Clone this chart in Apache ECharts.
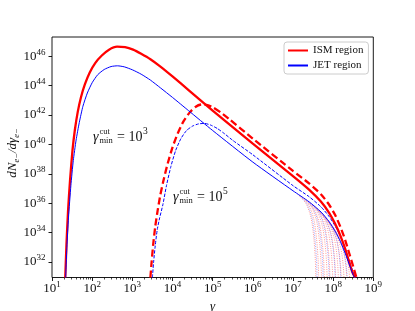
<!DOCTYPE html>
<html><head><meta charset="utf-8">
<script src="https://cdn.jsdelivr.net/npm/echarts@6/dist/echarts.min.js"></script>
<style>html,body{margin:0;padding:0;background:#fff}#c{width:415px;height:311px}</style>
</head><body><div id="c"></div>
<script>
// all values are log10(gamma), log10(dN/dgamma)
const xTickExponents = [1,2,3,4,5,6,7,8,9];
const yTickExponents = [32,34,36,38,40,42,44,46];
const legendNames = ['ISM region','JET region'];
const annotationExponents = [3,5];

const ismSolid = [[1.33,30.95],[1.36,33.2],[1.40,35.5],[1.45,37.6],[1.51,39.6],[1.57,41.0],[1.64,42.2],[1.72,43.2],[1.82,44.1],[1.94,44.9],[2.08,45.55],[2.24,46.05],[2.42,46.45],[2.62,46.65],[2.82,46.62],[3.02,46.45],[3.22,46.17],[3.45,45.8],[3.7,45.3],[4.0,44.63],[4.4,43.7],[5.0,42.3],[6.0,40.05],[7.0,37.85],[7.4,36.93],[7.7,36.1],[7.9,35.35],[8.05,34.6],[8.18,33.8],[8.3,32.9],[8.4,32.0],[8.48,31.3],[8.55,30.95]];
const jetSolid = [[1.34,30.95],[1.37,33.0],[1.41,35.0],[1.47,37.2],[1.53,38.9],[1.6,40.3],[1.68,41.5],[1.77,42.6],[1.88,43.5],[2.0,44.2],[2.14,44.75],[2.3,45.1],[2.47,45.3],[2.63,45.35],[2.8,45.28],[3.0,45.08],[3.22,44.78],[3.45,44.38],[3.7,43.85],[4.0,43.2],[4.4,42.3],[5.0,40.95],[6.0,38.8],[7.0,36.85],[7.4,36.1],[7.7,35.4],[7.9,34.75],[8.05,34.1],[8.18,33.4],[8.3,32.6],[8.4,31.85],[8.48,31.25],[8.53,30.95]];
const ismDashed = [[3.45,30.95],[3.48,32.0],[3.52,33.2],[3.57,34.4],[3.63,35.5],[3.7,36.6],[3.78,37.6],[3.88,38.7],[4.0,39.8],[4.13,40.75],[4.27,41.55],[4.42,42.15],[4.57,42.55],[4.72,42.72],[4.87,42.68],[5.02,42.5],[5.2,42.18],[5.425,41.7],[6.0,40.4],[7.0,38.2],[7.4,37.35],[7.7,36.6],[7.9,35.9],[8.05,35.2],[8.18,34.4],[8.3,33.5],[8.4,32.6],[8.5,31.7],[8.58,30.95]];
const jetDashed = [[3.5,30.95],[3.53,32.0],[3.57,33.1],[3.62,34.2],[3.68,35.0],[3.76,35.9],[3.85,37.2],[3.96,38.5],[4.08,39.6],[4.21,40.4],[4.35,40.95],[4.5,41.25],[4.65,41.4],[4.8,41.43],[4.95,41.32],[5.12,41.08],[5.3,40.72],[5.5,40.28],[6.0,39.3],[7.0,37.2],[7.4,36.45],[7.7,35.75],[7.9,35.1],[8.05,34.45],[8.18,33.75],[8.3,32.9],[8.4,32.1],[8.5,31.3],[8.56,30.95]];

// thin dotted cut-off curves (fan near the high-energy end)
const ismFans = [
  [[7.12,36.6],[7.32,36.0],[7.45,35.0],[7.52,33.6],[7.555,32.2],[7.57,30.95]],
  [[7.19,36.5],[7.39,35.9],[7.52,34.9],[7.59,33.5],[7.625,32.2],[7.64,30.95]],
  [[7.26,36.35],[7.46,35.75],[7.59,34.75],[7.66,33.4],[7.695,32.1],[7.71,30.95]],
  [[7.33,36.25],[7.53,35.6],[7.66,34.6],[7.73,33.3],[7.765,32.1],[7.78,30.95]],
  [[7.4,36.1],[7.6,35.45],[7.73,34.45],[7.8,33.2],[7.835,32.0],[7.85,30.95]],
  [[7.47,35.95],[7.67,35.3],[7.8,34.3],[7.87,33.1],[7.905,32.0],[7.92,30.95]],
  [[7.54,35.8],[7.74,35.1],[7.87,34.15],[7.94,33.0],[7.975,31.9],[7.99,30.95]],
  [[7.61,35.6],[7.81,34.9],[7.94,34.0],[8.01,32.9],[8.045,31.9],[8.06,30.95]],
  [[7.68,35.45],[7.88,34.7],[8.01,33.8],[8.08,32.8],[8.115,31.8],[8.13,30.95]],
  [[7.75,35.25],[7.95,34.45],[8.08,33.6],[8.15,32.65],[8.185,31.7],[8.2,30.95]],
  [[7.82,35.0],[8.02,34.2],[8.15,33.35],[8.22,32.5],[8.255,31.6],[8.27,30.95]],
  [[7.89,34.8],[8.09,33.95],[8.22,33.1],[8.29,32.3],[8.325,31.5],[8.34,30.95]],
  [[7.96,34.55],[8.16,33.65],[8.29,32.8],[8.36,32.05],[8.395,31.4],[8.41,30.95]]
];
const jetFans = [
  [[7.15,36.55],[7.35,35.95],[7.48,34.95],[7.55,33.5],[7.585,32.2],[7.6,30.95]],
  [[7.3,36.3],[7.5,35.65],[7.63,34.65],[7.7,33.35],[7.735,32.1],[7.75,30.95]],
  [[7.45,36.0],[7.65,35.35],[7.78,34.35],[7.85,33.1],[7.885,32.0],[7.9,30.95]],
  [[7.6,35.65],[7.8,34.95],[7.93,34.0],[8.0,32.9],[8.035,31.9],[8.05,30.95]],
  [[7.74,35.3],[7.94,34.5],[8.07,33.65],[8.14,32.7],[8.175,31.75],[8.19,30.95]],
  [[7.9,34.75],[8.1,33.9],[8.23,33.05],[8.3,32.25],[8.335,31.5],[8.35,30.95]]
];

const SERIF = "'Liberation Serif','DejaVu Serif',serif";
const minorTicks = [];
for (let d = 1; d < 9; d++) for (let k = 2; k <= 9; k++) minorTicks.push(d + Math.log10(k));

const chart = echarts.init(document.getElementById('c'), null, {renderer:'canvas'});

const powRich = {
  b: {fontFamily: SERIF, fontSize: 13, color: '#111', lineHeight: 17},
  s: {fontFamily: SERIF, fontSize: 9, color: '#111', lineHeight: 6, verticalAlign: 'top'}
};
const powFmt = v => '{b|10}{s|' + Math.round(v) + '}';

const series = [];
ismFans.forEach((d,i) => series.push({type:'line', name:'ismFan'+i, data:d, symbol:'none', smooth:0.3, silent:true,
  lineStyle:{color:'#ff0000', width:0.8, type:[1,1.3], opacity:0.5}, z:1}));
jetFans.forEach((d,i) => series.push({type:'line', name:'jetFan'+i, data:d, symbol:'none', smooth:0.3, silent:true,
  lineStyle:{color:'#0000ff', width:0.8, type:[1,1.3], opacity:0.45}, z:1}));
const sm = 0.2;
series.push({type:'line', name:'ISM dashed', data:ismDashed, symbol:'none', smooth:sm, lineStyle:{color:'#ff0000', width:2.3, type:[7,3.5]}, z:3});
series.push({type:'line', name:'JET dashed', data:jetDashed, symbol:'none', smooth:sm, lineStyle:{color:'#0000ff', width:1, type:[3.3,1.5]}, z:3});
series.push({type:'line', name:legendNames[0], data:ismSolid, symbol:'circle', showSymbol:false, smooth:sm, lineStyle:{color:'#ff0000', width:2.3}, itemStyle:{color:'#ff0000'}, z:4});
series.push({type:'line', name:legendNames[1], data:jetSolid, symbol:'circle', showSymbol:false, smooth:sm, lineStyle:{color:'#0000ff', width:1}, itemStyle:{color:'#0000ff'}, z:4});

function annot(x, y, e) {
  const f = (s) => s + "px " + SERIF;
  return {type:'group', x:x, y:y, children:[
    {type:'text', x:0, y:0, style:{text:'γ', font:'italic ' + f(14), verticalAlign:'middle', fill:'#111'}},
    {type:'text', x:6.5, y:-5, style:{text:'cut', font:f(8.5), verticalAlign:'middle', fill:'#111'}},
    {type:'text', x:6.5, y:3.5, style:{text:'min', font:f(8.5), verticalAlign:'middle', fill:'#111'}},
    {type:'text', x:24, y:0, style:{text:'= 10', font:f(14), verticalAlign:'middle', fill:'#111'}},
    {type:'text', x:50, y:-6, style:{text:String(e), font:f(9.5), verticalAlign:'middle', fill:'#111'}}
  ]};
}

const yTitle = {
  type:'text', x:13, y:153, rotation:Math.PI/2,
  style:{
    text:'{i|dN}{s|e−}{i|/dγ}{s|e−}', align:'center', verticalAlign:'middle',
    rich:{
      i:{fontFamily:SERIF, fontStyle:'italic', fontSize:13, fill:'#111', lineHeight:16},
      s:{fontFamily:SERIF, fontStyle:'italic', fontSize:8.5, fill:'#111', lineHeight:8, verticalAlign:'bottom'}
    }
  }
};

chart.setOption({
  animation:false,
  backgroundColor:'#fff',
  grid:{left:52, right:41.7, top:37, bottom:33.5, show:true, borderColor:'#000', borderWidth:0.9, backgroundColor:'transparent', containLabel:false, outerBoundsMode:'none'},
  legend:{
    data: legendNames, orient:'vertical', left:284, top:42, itemWidth:20, itemHeight:10, itemGap:4,
    padding:[3,5,3,3], backgroundColor:'rgba(255,255,255,0.8)', borderColor:'#cccccc', borderWidth:1, borderRadius:3,
    itemStyle:{color:'rgba(0,0,0,0)', borderWidth:0, opacity:0},
    textStyle:{fontFamily:SERIF, fontSize:11, color:'#111'}
  },
  xAxis:[{
    type:'value', min:1, max:9, position:'bottom',
    splitLine:{show:false}, axisLine:{show:false},
    axisTick:{show:true, inside:false, length:3.5, lineStyle:{color:'#000', width:0.9}, customValues:xTickExponents},
    axisLabel:{show:true, margin:3, formatter:powFmt, rich:powRich, customValues:xTickExponents},
    name:'γ', nameLocation:'middle', nameGap:19, nameTextStyle:{fontFamily:SERIF, fontStyle:'italic', fontSize:13, color:'#111'}
  },{
    type:'value', min:1, max:9, position:'bottom', offset:0,
    splitLine:{show:false}, axisLine:{show:false},
    axisTick:{show:true, inside:false, length:2, lineStyle:{color:'#000', width:0.7}, customValues:minorTicks},
    axisLabel:{show:false}
  }],
  yAxis:{
    type:'value', min:30.95, max:47.31,
    splitLine:{show:false}, axisLine:{show:false},
    axisTick:{show:true, inside:false, length:3.5, lineStyle:{color:'#000', width:0.9}, customValues:yTickExponents},
    axisLabel:{show:true, margin:6.5, formatter:powFmt, rich:powRich, customValues:yTickExponents}
  },
  graphic: [yTitle, annot(93, 137, annotationExponents[0]), annot(173, 197, annotationExponents[1])],
  series: series
});
</script>
</body></html>
